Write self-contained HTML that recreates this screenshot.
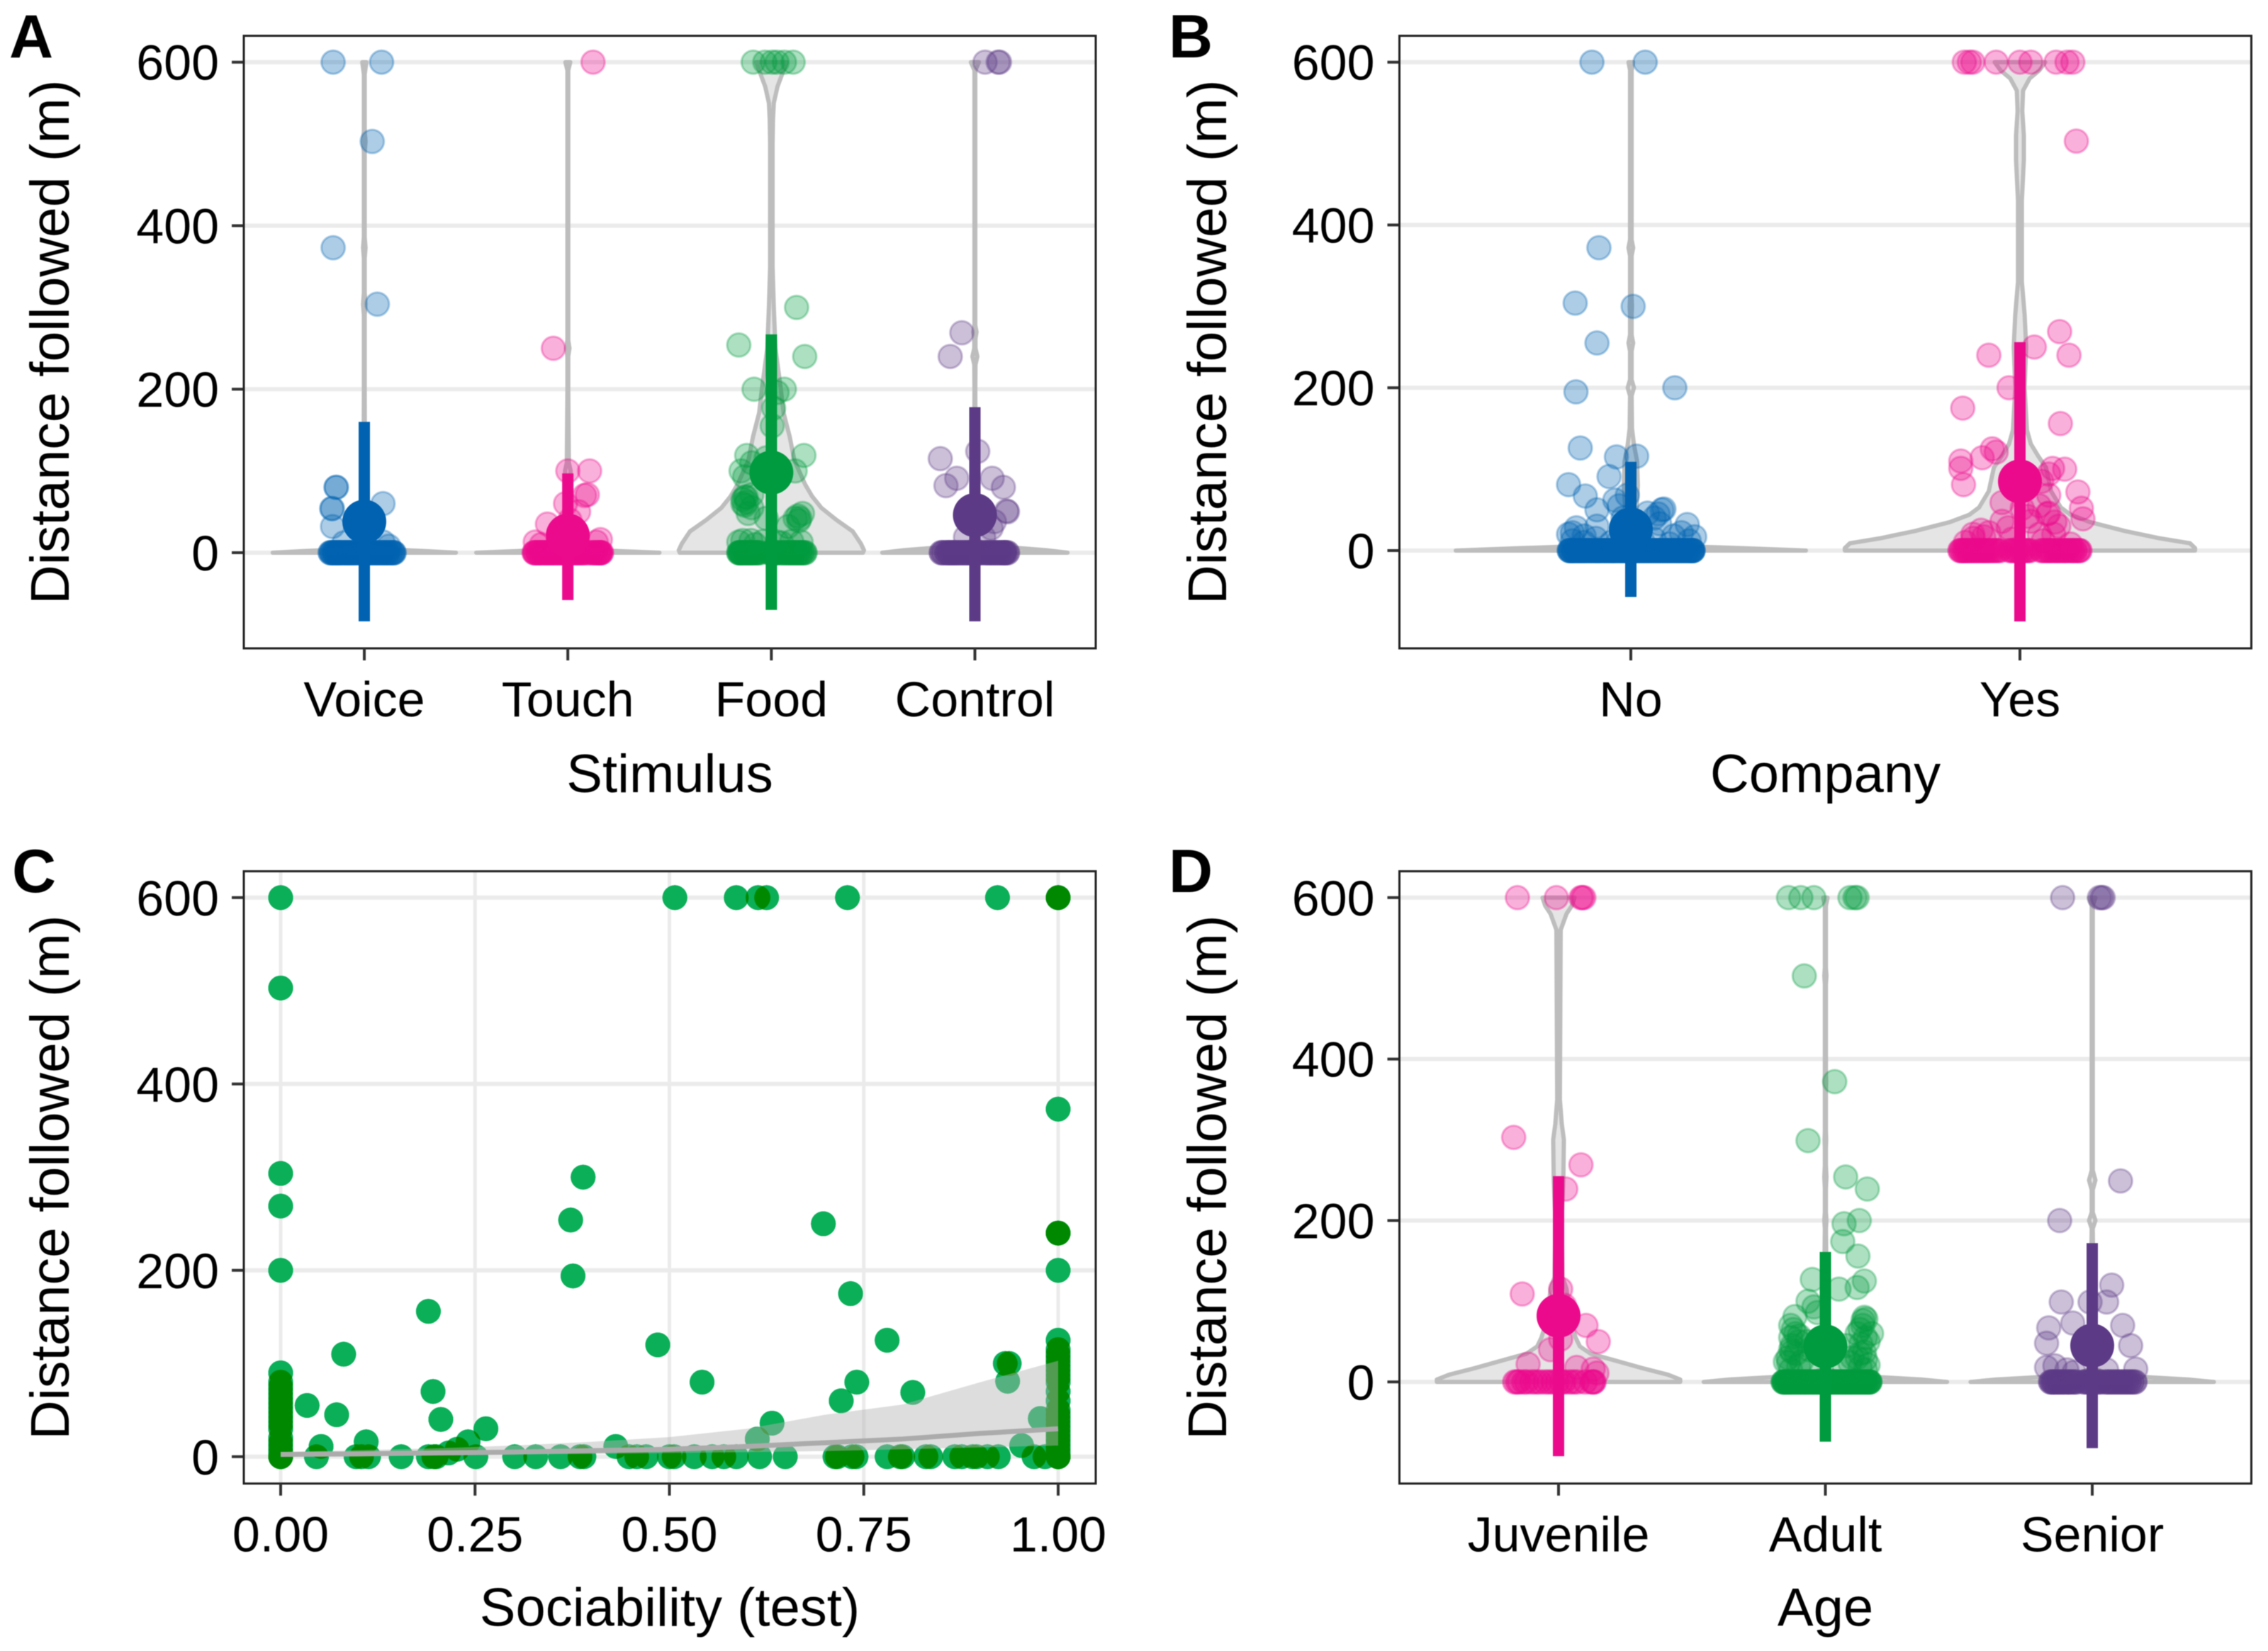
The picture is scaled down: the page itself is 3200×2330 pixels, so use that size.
<!DOCTYPE html>
<html lang="en">
<head>
<meta charset="utf-8">
<title>Distance followed by stimulus, company, sociability and age</title>
<style>
html,body{margin:0;padding:0;background:#fff;}
svg{display:block;filter:blur(0.6px);}
text{font-family:"Liberation Sans",Arial,sans-serif;fill:#000;}
</style>
</head>
<body>
<svg id="figure" xmlns="http://www.w3.org/2000/svg" width="3200" height="2330" viewBox="0 0 3200 2330">
  <defs>
    <filter id="overlap-green" filterUnits="userSpaceOnUse" x="0" y="1100" width="1700" height="1100" color-interpolation-filters="sRGB">
      <feColorMatrix type="matrix" values="0 0 0 1 0  0 0 0 1 0  0 0 0 1 0  0 0 0 1 0"/>
      <feComponentTransfer>
        <feFuncR type="table" tableValues="0.04 0.04 0.04 0 0"/>
        <feFuncG type="table" tableValues="0.69 0.69 0.69 0.54 0.54"/>
        <feFuncB type="table" tableValues="0.35 0.35 0.35 0 0"/>
        <feFuncA type="table" tableValues="0 0.9 1 1 1"/>
      </feComponentTransfer>
    </filter>
  </defs>
</svg>
<script>
// ---------- shared axis data ----------
const yTicks = [0, 200, 400, 600];
const stimulusCategories = ["Voice", "Touch", "Food", "Control"];
const companyCategories = ["No", "Yes"];
const ageCategories = ["Juvenile", "Adult", "Senior"];
const sociabilityTicks = [0, 0.25, 0.5, 0.75, 1];
const sociabilityTickLabels = ["0.00", "0.25", "0.50", "0.75", "1.00"];
const floorValue = 0;

// ---------- Panel A: Stimulus ----------
const voiceValues = [600,600,503,373,304,80,80,54,54,60,32,13,12,8];
const voiceJitter = [-.153,.085,.039,-.153,.064,-.139,-.137,-.16,-.157,.092,-.156,.092,-.1,.12];
const voiceFloorJitter = [-.167,-.16,-.152,-.145,-.14,-.13,-.125,-.118,-.11,-.1,-.092,-.085,-.075,-.07,-.06,-.05,-.043,-.03,-.02,-.01,0,.012,.02,.03,.04,.052,.06,.07,.08,.09,.1,.11,.118,.13,.14,.146];
const voiceViolinY = [0,2,4,8,12,20,60,120,200,290,304,318,360,373,386,490,503,516,585,600];
const voiceViolinW = [.45,.3,.12,.03,.01,.004,.003,.003,.002,.002,.006,.002,.002,.006,.002,.002,.006,.002,.002,.01];
const voiceMean = 38, voiceLow = -84, voiceHigh = 160;

const touchValues = [600,250,100,100,71,70,60,50,35,13,16,13,10,40];
const touchJitter = [.124,-.071,0,.107,.096,.082,-.011,.053,-.1,-.16,.16,.14,-.13,.01];
const touchFloorJitter = [-.165,-.16,-.15,-.145,-.135,-.13,-.12,-.11,-.105,-.095,-.085,-.08,-.07,-.06,-.05,-.04,-.03,-.02,-.01,0,.01,.02,.03,.04,.05,.06,.07,.08,.1,.12,.13,.14,.15,.16,.165,.155];
const touchViolinY = [0,2,4,8,14,60,90,100,110,200,240,250,260,590,600];
const touchViolinW = [.45,.25,.1,.03,.012,.006,.012,.014,.005,.002,.002,.008,.002,.002,.012];
const touchMean = 21, touchLow = -58, touchHigh = 97;

const foodValues = [600,600,600,600,600,600,300,254,240,200,200,196,177,155,119,119,110,116,100,100,93,68,65,71,58,48,55,42,48,39,42,32,13,13,10,13,68,62,60,45,42,15,15,14,12,14];
const foodJitter = [-.089,-.032,.004,.028,.064,.107,.124,-.16,.164,-.085,.064,.028,.011,.004,.16,-.121,-.096,-.025,-.149,.117,-.131,-.124,-.139,-.096,-.131,-.114,-.096,.117,.153,.135,-.025,.082,-.16,.146,-.078,.028,-.13,-.12,-.14,.13,.14,-.14,-.1,-.04,.05,.1];
const foodFloorJitter = [-.16,-.155,-.15,-.145,-.14,-.13,-.125,-.115,-.11,-.105,-.095,-.09,-.08,-.07,-.06,-.01,0,.01,.02,.03,.05,.06,.075,.085,.095,.105,.115,.125,.135,.145,.155,.165];
const foodViolinY = [0,3,11,26,40,55,69,84,113,142,171,199,250,300,350,500,530,550,570,590,600];
const foodViolinW = [.45,.455,.44,.4,.32,.245,.2,.165,.113,.09,.06,.047,.02,.012,.006,.006,.008,.012,.03,.06,.075];
const foodMean = 98, foodLow = -70, foodHigh = 267;

const controlValues = [600,600,600,269,240,124,115,91,82,91,80,51,50,38,19,19,30];
const controlJitter = [.05,.114,.121,-.064,-.121,.014,-.17,-.089,-.142,.085,.14,.156,.16,.096,-.046,.043,.08];
const controlFloorJitter = [-.165,-.155,-.14,-.13,-.125,-.115,-.105,-.1,-.09,-.08,-.07,-.06,-.05,-.04,-.03,-.02,-.01,0,.01,.02,.03,.05,.06,.07,.08,.09,.1,.11,.12,.13,.14,.145,.15,.16];
const controlViolinY = [0,3,6,10,15,40,120,200,230,240,250,262,270,278,590,600];
const controlViolinW = [.455,.35,.2,.06,.012,.005,.003,.002,.003,.012,.003,.003,.008,.002,.002,.02];
const controlMean = 46, controlLow = -84, controlHigh = 178;

// ---------- Panel B: Company ----------
const noValues = [600,600,372,304,300,255,195,200,126,115,116,91,81,67,50,68,62,50,51,46,33,32,30,17,20,25,12,12,10,8,10,28,22,18,15,14,12,14,18,22,40,45,55,40];
const noJitter = [-.1,.037,-.082,-.143,.006,-.087,-.141,.113,-.13,-.037,.015,-.056,-.16,-.117,-.087,-.009,-.041,.08,.085,.043,.074,.145,-.087,.164,-.16,.015,-.15,.15,-.12,.1,-.05,-.14,-.15,-.12,-.09,-.03,.03,.06,.11,.13,.06,.07,-.03,-.02];
const noFloorJitter = [-.158,-.155,-.15,-.146,-.14,-.135,-.13,-.125,-.12,-.114,-.108,-.102,-.096,-.09,-.085,-.08,-.074,-.068,-.062,-.056,-.05,-.045,-.04,-.034,-.028,-.022,-.016,-.01,-.005,0,.005,.01,.016,.022,.028,.034,.04,.046,.052,.058,.064,.07,.076,.082,.088,.094,.1,.106,.112,.118,.124,.13,.136,.142,.148,.154,.16,.158];
const noViolinY = [0,3,6,12,30,80,110,130,150,190,200,210,245,255,265,290,300,310,362,372,382,590,600];
const noViolinW = [.45,.28,.1,.03,.012,.018,.016,.008,.003,.002,.008,.002,.002,.006,.002,.002,.003,.002,.002,.006,.002,.002,.006];
const noMean = 26, noLow = -57, noHigh = 109;

const yesValues = [600,600,600,600,600,600,600,600,600,503,269,240,250,240,200,175,156,125,121,114,110,101,81,101,100,94,85,68,72,52,59,52,46,36,36,39,20,17,20,14,12,8,10,25,22,15,20,28,45,35,42,30,55];
const yesJitter = [-.143,-.13,-.121,-.061,0,.028,.093,.121,.136,.145,.102,-.08,.037,.126,-.028,-.147,.104,-.071,-.061,-.097,-.152,-.152,-.145,.084,.115,.074,.056,.074,.149,.158,-.046,.006,.074,.028,-.046,.162,-.121,-.093,.087,-.02,.06,.13,-.14,-.1,-.08,-.12,.05,-.03,.07,.09,.02,.1,.05];
const yesFloorJitter = [-.154,-.15,-.145,-.14,-.135,-.13,-.124,-.118,-.112,-.106,-.1,-.094,-.088,-.082,-.075,-.068,-.06,-.052,-.025,-.018,-.01,-.004,.004,.01,.018,.025,.055,.062,.07,.076,.082,.09,.096,.102,.11,.116,.122,.13,.136,.142,.15,.154];
const yesViolinY = [0,3,9,15,24,35,44,53,73,102,116,131,148,200,250,290,330,430,480,510,540,565,580,590,600];
const yesViolinW = [.45,.45,.437,.36,.27,.18,.13,.105,.08,.067,.047,.028,.018,.012,.016,.012,.005,.005,.01,.01,.006,.008,.025,.05,.065];
const yesMean = 85, yesLow = -87, yesHigh = 256;

// ---------- Panel C: Sociability ----------
const sociabilityX = [0,0,0,0,0,0,0,0,0,0,0,0,0,0,0,0,0,0,0,0,0,0,0,0,
  .034,.072,.081,.052,.046,.11,.097,.104,.113,.155,.19,.196,.206,.19,.197,.2,.216,.227,.241,.264,.251,.301,.328,.36,.373,.376,.389,.385,.39,.431,.448,.458,.47,.485,.5,.506,.507,.532,.542,.555,.57,.586,.586,.614,.625,.613,.616,.632,.649,.698,.713,.716,.721,.729,.733,.735,.74,.741,.78,.78,.797,.8,.813,.83,.836,.867,.876,.89,.895,.909,.923,.922,.932,.937,.935,.953,.977,.969,.983,
  1,1,1,1,1,1,1,1,1,1,1,1,1,1,1,1,1,1,1,1,1,1,1,1,1,1,1,1,1,1,1,1,1,1];
const sociabilityY = [600,503,304,269,200,90,80,75,70,65,60,55,50,45,40,35,30,20,15,10,5,0,0,0,
  55,45,110,11,0,16,0,0,0,0,156,70,40,0,0,0,4,8,16,30,0,0,0,0,254,194,300,0,0,11,0,0,0,120,0,0,600,0,80,0,0,0,600,600,600,19,0,36,0,250,0,0,60,600,175,0,0,80,125,0,0,0,69,0,0,0,0,0,0,0,0,600,100,100,81,12,41,0,0,
  600,600,600,373,240,240,240,200,125,115,110,105,100,95,90,85,80,70,60,50,45,40,35,30,25,20,15,10,5,0,0,0,0,0];
const smoothX = [0,.1,.2,.3,.4,.5,.6,.7,.8,.9,1];
const smoothFit = [2.5,3,4,5,6.5,8,11,15,19,25,30];
const smoothUpper = [5,7,9,12,16,21,30,45,56,80,103];
const smoothLower = [1,1.5,2,2.5,3,4,5,6,8,10,12];

// ---------- Panel D: Age ----------
const juvenileValues = [600,600,600,600,600,303,269,239,115,109,95,70,50,40,53,22,18,16,11];
const juvenileJitter = [-.154,-.008,.084,.095,.089,-.168,.084,.027,.008,-.136,.022,.103,.149,-.03,.008,-.114,.068,.13,.144];
const juvenileFloorJitter = [-.164,-.155,-.148,-.13,-.12,-.1,-.085,-.07,-.05,-.035,-.02,-.005,.01,.02,.04,.055,.07,.1,.125,.13,.133];
const juvenileViolinY = [0,3,9,17,26,35,44,55,70,100,115,130,200,250,300,320,350,560,580,590,600];
const juvenileViolinW = [.456,.456,.41,.315,.218,.12,.08,.064,.05,.035,.03,.015,.012,.018,.02,.012,.005,.008,.03,.05,.06];
const juvenileMean = 82, juvenileLow = -92, juvenileHigh = 255;

const adultValues = [600,600,600,600,600,600,503,372,299,254,239,200,196,174,156,127,125,117,115,100,93,86,81,80,78,76,60,57,60,60,50,37,47,37,24,21,20,24,30,40,50,70,45,65,55,45,35,30,25,15,15,18,15,28,35,55,65,50,40,25,20,30,70];
const adultJitter = [-.138,-.092,-.043,.092,.111,.119,-.079,.035,-.065,.076,.157,.127,.07,.065,.122,-.049,.146,.119,.051,-.065,-.043,-.03,-.114,.146,.152,.141,-.111,-.098,.119,.173,-.07,-.125,.133,.146,-.138,.16,-.1,.092,.119,-.06,.16,-.13,.08,-.12,-.13,-.125,-.11,-.14,-.09,-.13,-.06,.13,.15,.15,.13,.15,.13,-.1,-.13,-.15,.07,.1,.14];
const adultFloorJitter = [-.158,-.154,-.15,-.145,-.14,-.135,-.13,-.124,-.118,-.112,-.106,-.1,-.094,-.088,-.082,-.076,-.07,-.064,-.058,-.052,-.046,-.04,-.034,-.028,-.022,-.016,-.01,-.004,.002,.008,.014,.02,.026,.032,.038,.044,.05,.056,.062,.068,.074,.08,.086,.092,.098,.104,.11,.116,.122,.128,.134,.14,.146,.152,.158,.164,.167];
const adultViolinY = [0,3,6,10,16,40,120,160,190,200,210,240,254,268,290,300,310,362,372,382,493,503,513,590,600];
const adultViolinW = [.456,.36,.2,.06,.012,.006,.004,.003,.002,.004,.002,.002,.004,.002,.002,.003,.002,.002,.003,.002,.002,.004,.002,.002,.008];
const adultMean = 44, adultLow = -74, adultHigh = 161;

const seniorValues = [600,600,600,600,249,200,120,99,99,99,73,70,67,48,45,18,16,15,15,12,20];
const seniorJitter = [-.111,.027,.035,.041,.106,-.122,.073,-.116,-.008,.054,-.073,.114,-.163,-.171,.144,-.171,.163,-.095,.054,-.068,-.14];
const seniorFloorJitter = [-.156,-.15,-.145,-.14,-.132,-.125,-.12,-.11,-.105,-.095,-.088,-.08,-.07,-.06,-.03,-.02,-.012,0,.01,.02,.03,.05,.06,.07,.08,.09,.1,.11,.12,.13,.14,.15,.16];
const seniorViolinY = [0,3,6,10,16,40,120,160,190,200,210,238,250,262,590,600];
const seniorViolinW = [.456,.36,.2,.06,.012,.006,.004,.003,.002,.012,.002,.002,.012,.002,.002,.012];
const seniorMean = 45, seniorLow = -82, seniorHigh = 172;

// ---------- colours ----------
const BLUE = "#0062b1", PINK = "#ec0a8c", GREEN = "#009b3e", PURPLE = "#5c3a86";
const SVGNS = "http://www.w3.org/2000/svg";
const root = document.getElementById("figure");

function make(tag, attrs, parent) {
  const el = document.createElementNS(SVGNS, tag);
  for (const k in attrs) el.setAttribute(k, attrs[k]);
  parent.appendChild(el);
  
  return el;
}
function linearScale(d0, d1, r0, r1) {
  return function (v) { return r0 + (v - d0) * (r1 - r0) / (d1 - d0); };
}

// Panel frame: grid, ticks, titles. Returns the layer for marks plus the y axis function.
function panelBase(name, letter, letterX, letterY, box, zeroY, sixY, yTitleX) {
  const g = make("g", {}, root);
  
  const y = linearScale(0, 600, zeroY, sixY);
  const grid = make("g", {}, g);
  
  yTicks.forEach(function (t) {
    const line = make("line", {x1: box.l, x2: box.r, y1: y(t), y2: y(t), stroke: "#ebebeb", "stroke-width": 6}, grid);
    
    const tick = make("line", {x1: box.l - 17, x2: box.l, y1: y(t), y2: y(t), stroke: "#333", "stroke-width": 4}, g);
    
    const label = make("text", {x: box.l - 35, y: y(t) + 25, "text-anchor": "end", "font-size": 70}, g);
    
    label.textContent = String(t);
  });
  const yTitle = make("text", {x: yTitleX, y: (box.t + box.b) / 2, "text-anchor": "middle", "font-size": 77,
    transform: "rotate(-90 " + yTitleX + " " + (box.t + box.b) / 2 + ")"}, g);
  
  yTitle.textContent = "Distance followed (m)";
  const tag = make("text", {x: letterX, y: letterY, "font-size": 86, "font-weight": "bold"}, g);
  
  tag.textContent = letter;
  const marks = make("g", {}, g);
  
  return {g: g, grid: grid, marks: marks, y: y, box: box};
}
function panelBorder(p) {
  const b = p.box;
  const frame = make("rect", {x: b.l, y: b.t, width: b.r - b.l, height: b.b - b.t, fill: "none", stroke: "#222", "stroke-width": 3}, p.g);
  
}
function xAxisText(p, positions, labels, title, titleOffset) {
  const b = p.box;
  positions.forEach(function (px, i) {
    const tick = make("line", {x1: px, x2: px, y1: b.b, y2: b.b + 17, stroke: "#333", "stroke-width": 4}, p.g);
    
    const label = make("text", {x: px, y: b.b + 96, "text-anchor": "middle", "font-size": 70}, p.g);
    
    label.textContent = labels[i];
  });
  const t = make("text", {x: (b.l + b.r) / 2, y: b.b + titleOffset, "text-anchor": "middle", "font-size": 76}, p.g);
  
  t.textContent = title;
}

// Violin + jittered points + mean with error bar for one category.
function drawGroup(p, groupName, cx, unit, color, values, jitter, floorJitter, floorAlpha, violinY, violinW, mean, low, high) {
  const y = p.y;
  const g = make("g", {}, p.marks);
  
  const right = violinY.map(function (v, i) { return (cx + violinW[i] * unit) + "," + y(v); });
  const left = violinY.map(function (v, i) { return (cx - violinW[i] * unit) + "," + y(v); }).reverse();
  const violin = make("path", {d: "M" + right.join("L") + "L" + left.join("L") + "Z", fill: "#e5e5e5", stroke: "#bdbdbd",
    "stroke-width": 6, "stroke-linejoin": "round"}, g);
  
  function dot(value, j, alpha) {
    const c = make("circle", {cx: cx + j * unit, cy: y(value), r: 16.5, fill: color, "fill-opacity": alpha,
      stroke: color, "stroke-opacity": alpha, "stroke-width": 3}, g);
    
  }
  floorJitter.forEach(function (j) { dot(floorValue, j, floorAlpha); });
  values.forEach(function (v, i) { dot(v, jitter[i], .32); });
  const bar = make("line", {x1: cx, x2: cx, y1: y(low), y2: y(high), stroke: color, "stroke-width": 16}, g);
  
  const m = make("circle", {cx: cx, cy: y(mean), r: 31, fill: color}, g);
  
}

// ---------- Panel A ----------
const panelA = panelBase("panel-a-stimulus", "A", 13, 81, {l: 344, r: 1546, t: 50.5, b: 915}, 780, 87.7, 97);
const stimX = linearScale(0, 3, 514, 1375.5);
const stimUnit = stimX(1) - stimX(0);
drawGroup(panelA, "voice", stimX(0), stimUnit, BLUE, voiceValues, voiceJitter, voiceFloorJitter, .55, voiceViolinY, voiceViolinW, voiceMean, voiceLow, voiceHigh);
drawGroup(panelA, "touch", stimX(1), stimUnit, PINK, touchValues, touchJitter, touchFloorJitter, .55, touchViolinY, touchViolinW, touchMean, touchLow, touchHigh);
drawGroup(panelA, "food", stimX(2), stimUnit, GREEN, foodValues, foodJitter, foodFloorJitter, .55, foodViolinY, foodViolinW, foodMean, foodLow, foodHigh);
drawGroup(panelA, "control", stimX(3), stimUnit, PURPLE, controlValues, controlJitter, controlFloorJitter, .55, controlViolinY, controlViolinW, controlMean, controlLow, controlHigh);
panelBorder(panelA);
xAxisText(panelA, stimulusCategories.map(function (c, i) { return stimX(i); }), stimulusCategories, "Stimulus", 203);

// ---------- Panel B ----------
const panelB = panelBase("panel-b-company", "B", 1649, 81, {l: 1974.5, r: 3176.5, t: 50.5, b: 915}, 777, 87.7, 1730);
const compX = linearScale(0, 1, 2301, 2850);
const compUnit = compX(1) - compX(0);
drawGroup(panelB, "no-company", compX(0), compUnit, BLUE, noValues, noJitter, noFloorJitter, .6, noViolinY, noViolinW, noMean, noLow, noHigh);
drawGroup(panelB, "yes-company", compX(1), compUnit, PINK, yesValues, yesJitter, yesFloorJitter, yesFloorAlpha(), yesViolinY, yesViolinW, yesMean, yesLow, yesHigh);
function yesFloorAlpha() { return .5; }
panelBorder(panelB);
xAxisText(panelB, companyCategories.map(function (c, i) { return compX(i); }), companyCategories, "Company", 203);

// ---------- Panel C ----------
const panelC = panelBase("panel-c-sociability", "C", 17, 1259, {l: 344, r: 1546, t: 1229.6, b: 2093.7}, 2055.8, 1266.8, 97);
const socX = linearScale(0, 1, 396, 1493);
sociabilityTicks.forEach(function (t) {
  const v = make("line", {x1: socX(t), x2: socX(t), y1: 1229.6, y2: 2093.7, stroke: "#ebebeb", "stroke-width": 5}, panelC.grid);
  
});
const socPoints = make("g", {filter: "url(#overlap-green)"}, panelC.marks);

sociabilityX.forEach(function (x, i) {
  const c = make("circle", {cx: socX(x), cy: panelC.y(sociabilityY[i]), r: 17.5, fill: "#000", "fill-opacity": .5}, socPoints);
  
});
const ribbonTop = smoothX.map(function (x, i) { return socX(x) + "," + panelC.y(smoothUpper[i]); });
const ribbonBottom = smoothX.map(function (x, i) { return socX(x) + "," + panelC.y(smoothLower[i]); }).reverse();
const ribbon = make("path", {d: "M" + ribbonTop.join("L") + "L" + ribbonBottom.join("L") + "Z", fill: "#b4b4b4", "fill-opacity": .45}, panelC.marks);

const fitLine = make("polyline", {points: smoothX.map(function (x, i) { return socX(x) + "," + panelC.y(smoothFit[i]); }).join(" "),
  fill: "none", stroke: "#ababab", "stroke-width": 7}, panelC.marks);

panelBorder(panelC);
xAxisText(panelC, sociabilityTicks.map(socX), sociabilityTickLabels, "Sociability (test)", 201);

// ---------- Panel D ----------
const panelD = panelBase("panel-d-age", "D", 1649, 1259, {l: 1974.5, r: 3176.5, t: 1229.6, b: 2093.7}, 1950.3, 1266.8, 1730);
const ageX = linearScale(0, 2, 2199, 2952);
const ageUnit = ageX(1) - ageX(0);
drawGroup(panelD, "juvenile", ageX(0), ageUnit, PINK, juvenileValues, juvenileJitter, juvenileFloorJitter, .42, juvenileViolinY, juvenileViolinW, juvenileMean, juvenileLow, juvenileHigh);
drawGroup(panelD, "adult", ageX(1), ageUnit, GREEN, adultValues, adultJitter, adultFloorJitter, .6, adultViolinY, adultViolinW, adultMean, adultLow, adultHigh);
drawGroup(panelD, "senior", ageX(2), ageUnit, PURPLE, seniorValues, seniorJitter, seniorFloorJitter, .55, seniorViolinY, seniorViolinW, seniorMean, seniorLow, seniorHigh);
panelBorder(panelD);
xAxisText(panelD, ageCategories.map(function (c, i) { return ageX(i); }), ageCategories, "Age", 201);
</script>
</body>
</html>
